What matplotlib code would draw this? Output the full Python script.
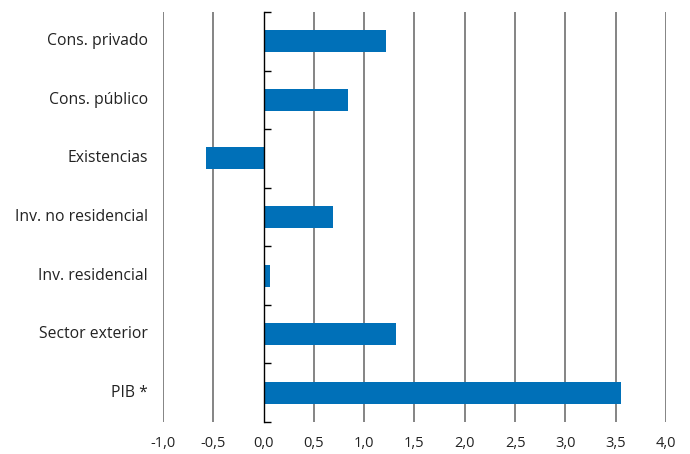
import numpy as np
import matplotlib
matplotlib.use("Agg")
import matplotlib.pyplot as plt
import matplotlib.transforms as mtransforms

# Contribuciones al crecimiento (p.p.)
categories = ["Cons. privado", "Cons. público", "Existencias",
              "Inv. no residencial", "Inv. residencial", "Sector exterior", "PIB *"]
values = [1.22, 0.84, -0.57, 0.69, 0.06, 1.32, 3.55]
xticks = [-1.0, -0.5, 0.0, 0.5, 1.0, 1.5, 2.0, 2.5, 3.0, 3.5, 4.0]

plt.rcParams['font.family'] = ['Open Sans', 'DejaVu Sans']

fig = plt.figure(figsize=(6.9, 4.54), dpi=100)
ax = fig.add_axes([0.2362, 0.0705, 0.729, 0.9031])

y = np.arange(len(categories))
ax.barh(y, values, height=0.375, color='#0070b8', zorder=3)

# vertical grid lines (except at zero, where the axis line sits)
for xv in xticks:
    if xv != 0:
        ax.axvline(xv, color='#707070', lw=1.2, zorder=1)

ax.set_xlim(-1.0, 4.0)
ax.set_ylim(len(categories) - 0.5, -0.5)

for s in ['top', 'right', 'bottom']:
    ax.spines[s].set_visible(False)
ax.spines['left'].set_position(('data', 0))
ax.spines['left'].set_color('black')
ax.spines['left'].set_linewidth(1.0)
ax.spines['left'].set_zorder(4)

ax.set_yticks(np.arange(-0.5, len(categories), 1.0))
ax.tick_params(axis='y', direction='in', length=5, width=1.0, labelleft=False)
ax.set_xticks(xticks)
ax.set_xticklabels([f"{v:.1f}".replace('.', ',') for v in xticks], fontsize=10.5, color='#222222')
ax.tick_params(axis='x', length=0, pad=10)

trans = mtransforms.blended_transform_factory(ax.transAxes, ax.transData)
for yi, lab in zip(y, categories):
    ax.text(-0.03, yi, lab, transform=trans, ha='right', va='center',
            fontsize=11.3, color='#222222')

fig.savefig("out.png", dpi=100)
